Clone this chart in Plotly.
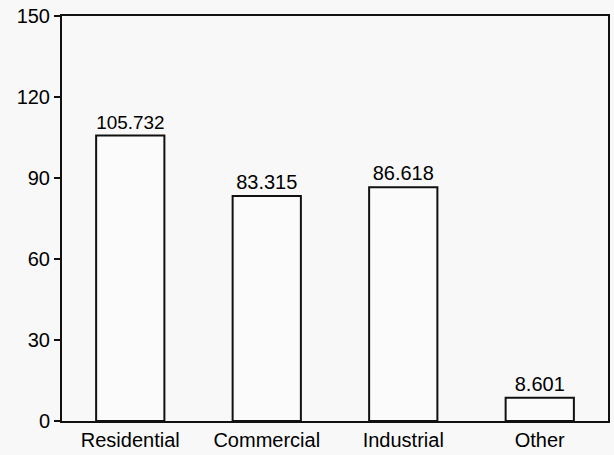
import plotly.graph_objects as go

categories = ["Residential", "Commercial", "Industrial", "Other"]
values = [105.732, 83.315, 86.618, 8.601]
value_labels = ["105.732", "83.315", "86.618", "8.601"]
y_ticks = [0, 30, 60, 90, 120, 150]

font = dict(family="Liberation Sans, Arial, Helvetica, sans-serif", size=20, color="#000000")

fig = go.Figure(go.Bar(
    x=categories, y=values,
    text=value_labels, textposition="outside",
    textfont=font, cliponaxis=False,
    marker=dict(color="#fbfbfb", line=dict(color="#111111", width=2)),
    width=0.5,
))

fig.update_layout(
    width=614, height=455,
    margin=dict(l=62, r=4, t=16, b=31),
    paper_bgcolor="#f8f8f8", plot_bgcolor="#f8f8f8",
    font=font, showlegend=False,
)
fig.update_xaxes(showline=True, linecolor="#111111", linewidth=2, mirror=True,
                 ticks="", showgrid=False, tickfont=font)
fig.update_yaxes(range=[0, 150], tickvals=y_ticks, showline=True, linecolor="#111111",
                 linewidth=2, mirror=True, ticks="outside", ticklen=6, tickwidth=2,
                 tickcolor="#111111", showgrid=False, zeroline=False, tickfont=font)

fig.write_html("out.html",
               config={"displayModeBar": False},
               post_script="document.body.style.margin='0';document.body.style.overflow='hidden';")
